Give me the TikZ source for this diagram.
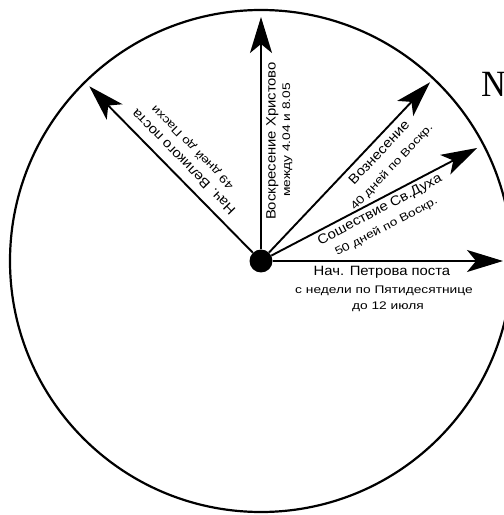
\documentclass[tikz,border=0pt]{standalone}
\usepackage{fontspec}
\setmainfont{Liberation Sans}
\newfontfamily\lblfont[FakeStretch=1.1]{Liberation Sans}
\newfontfamily\smlfont[FakeStretch=1.25]{Liberation Sans}
\newfontfamily\numfont{Liberation Serif}
\usetikzlibrary{arrows.meta,calc}
\begin{document}
\begin{tikzpicture}[x=1pt,y=1pt,
  ray/.style={line width=1.9pt,-{Stealth[length=36pt,width=22pt,inset=9pt]}},
  lone/.style={font=\lblfont\fontsize{13.5}{15}\selectfont, inner sep=0pt},
  ltwo/.style={font=\smlfont\fontsize{11}{12}\selectfont, inner sep=0pt}]
\useasboundingbox (0,0) rectangle (504,515);
\clip (0,0) rectangle (504,515);
\draw[line width=2.2pt] (261,254) circle (251);
\node[circle,fill,inner sep=0pt,minimum size=23pt] (c) at (261,254) {};
\coordinate (t1) at ($(c)+(134.5:245)$);
\coordinate (t2) at ($(c)+(90:244)$);
\coordinate (t3) at ($(c)+(46.6:246)$);
\coordinate (t4) at ($(c)+(27.6:244)$);
\coordinate (t5) at ($(c)+(0:242)$);
\draw[ray] (c) -- (t1);
\draw[ray] (c) -- (t2);
\draw[ray] (c) -- (t3);
\draw[ray] (c) -- (t4);
\draw[ray] (c) -- (t5);
% labels
\node[lone,rotate=134.5] (l1a) at ($(c)+(134.5:125)+(44.5:14)$) {Нач. Великого поста};
\node[ltwo,rotate=134.5] (l1b) at ($(c)+(134.5:129)+(44.5:31)$) {49 дней до Пасхи};
\node[lone,rotate=90] (l2a) at ($(c)+(90:120)+(0:11.5)$) {Воскресение Христово};
\node[ltwo,rotate=90] (l2b) at ($(c)+(90:121)+(0:26.5)$) {между 4.04 и 8.05};
\node[lone,rotate=46.6] (l3a) at ($(c)+(46.6:160)+(-43.4:11)$) {Вознесение};
\node[ltwo,rotate=46.6] (l3b) at ($(c)+(46.6:158)+(-43.4:31)$) {40 дней по Воскр.};
\node[lone,rotate=27.6] (l4a) at ($(c)+(27.6:129)+(-62.4:10)$) {Сошествие Св.Духа};
\node[ltwo,rotate=27.6] (l4b) at ($(c)+(27.6:127)+(-62.4:28)$) {50 дней по Воскр.};
\node[lone] (l5a) at ($(c)+(0:121)+(-90:11)$) {Нач. Петрова поста};
\node[ltwo] (l5b) at ($(c)+(0:123)+(-90:30)$) {с недели по Пятидесятнице};
\node[ltwo] (l5c) at ($(c)+(0:127)+(-90:46)$) {до 12 июля};
\node[font=\numfont\fontsize{37}{40}\selectfont, anchor=base west, inner sep=0pt] (num) at (481,418) {№};
\end{tikzpicture}
\end{document}
